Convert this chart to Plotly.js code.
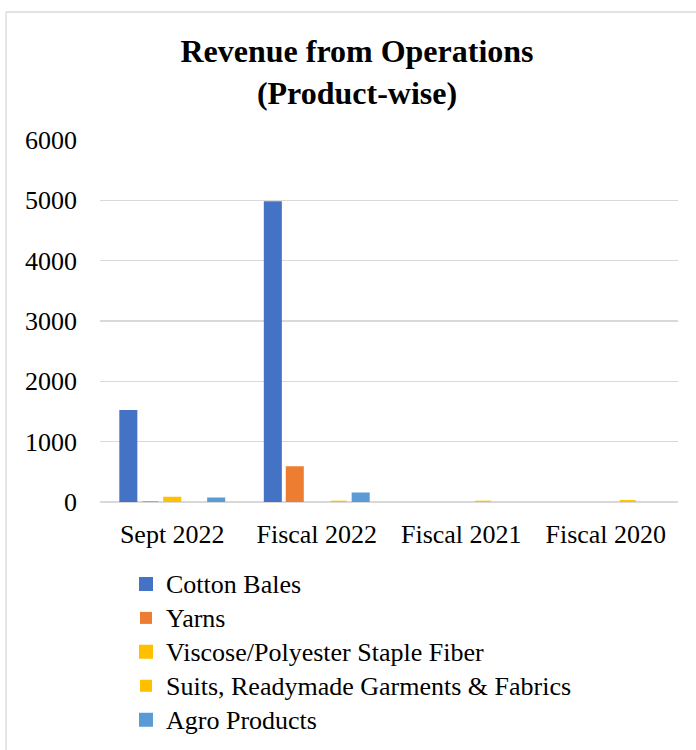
<!DOCTYPE html>
<html>
<head>
<meta charset="utf-8">
<script src="https://cdn.plot.ly/plotly-3.0.1.min.js"></script>
<style>html,body{margin:0;padding:0;background:#fff;}#chart{width:696px;height:750px;}</style>
</head>
<body>
<div id="chart"></div>
<script>
const categories = ["Sept 2022", "Fiscal 2022", "Fiscal 2021", "Fiscal 2020"];
const seriesNames = ["Cotton Bales", "Yarns", "Viscose/Polyester Staple Fiber", "Suits, Readymade Garments & Fabrics", "Agro Products"];
const cottonBales = [1510, 4970, 0, 0];
const yarns = [12, 575, 0, 0];
const viscoseFiber = [72, 0, 0, 0];
const suitsGarments = [0, 22, 22, 32];
const agroProducts = [58, 140, 0, 0];
const seriesColors = ["#4472C4", "#ED7D31", "#FFC000", "#FFC000", "#5B9BD5"];
const yTicks = [0, 1000, 2000, 3000, 4000, 5000, 6000];

const seriesValues = [cottonBales, yarns, viscoseFiber, suitsGarments, agroProducts];
const FONT = "'Liberation Serif', 'Times New Roman', serif";

const traces = seriesValues.map((vals, i) => ({
  type: "bar",
  name: '<span style="font-size:26px">' + seriesNames[i] + '</span>',
  x: categories,
  y: vals,
  marker: {
    color: seriesColors[i],
    line: {color: seriesColors[i], width: vals.map(v => (v > 40 ? 2 : 0))}
  },
  hoverinfo: "x+y"
}));

const layout = {
  width: 696,
  height: 750,
  margin: {l: 100, r: 18, t: 140, b: 248, pad: 0, autoexpand: false},
  paper_bgcolor: "#ffffff",
  plot_bgcolor: "#ffffff",
  font: {family: FONT, size: 26, color: "#000000"},
  title: {
    text: "<b>Revenue from Operations<br>(Product-wise)</b>",
    font: {family: FONT, size: 32, color: "#000000"},
    x: 357 / 696,
    xref: "container",
    xanchor: "center",
    y: 1 - 62 / 750,
    yref: "container",
    yanchor: "top"
  },
  barmode: "group",
  bargap: 0.24,
  bargroupgap: 0.27,
  xaxis: {
    type: "category",
    showgrid: false,
    showline: false,
    zeroline: false,
    ticks: "",
    ticklabelstandoff: 14,
    tickfont: {family: FONT, size: 26, color: "#000000"}
  },
  yaxis: {
    range: [0, 6000],
    tickvals: yTicks,
    ticktext: yTicks.map(String),
    showgrid: true,
    gridcolor: "#d9d9d9",
    gridwidth: 1.3,
    zeroline: true,
    zerolinecolor: "#d9d9d9",
    zerolinewidth: 1.3,
    showline: false,
    ticks: "",
    ticklabelstandoff: 22,
    tickfont: {family: FONT, size: 26, color: "#000000"}
  },
  showlegend: true,
  legend: {
    orientation: "v",
    tracegroupgap: 0,
    x: (126 - 100) / 578,
    xanchor: "left",
    y: (502 - 562) / 362,
    yanchor: "top",
    bgcolor: "rgba(0,0,0,0)",
    font: {family: FONT, size: 23.8, color: "#000000"}
  },
  shapes: [
    {
      type: "line", xref: "paper", yref: "paper",
      x0: (6 - 100) / 578, x1: (6 - 100) / 578,
      y0: (502 - 760) / 362, y1: (502 - 12) / 362,
      line: {color: "#d9d9d9", width: 1.3}, layer: "below"
    },
    {
      type: "line", xref: "paper", yref: "paper",
      x0: (6 - 100) / 578, x1: (720 - 100) / 578,
      y0: (502 - 12) / 362, y1: (502 - 12) / 362,
      line: {color: "#d9d9d9", width: 1.3}, layer: "below"
    }
  ]
};

Plotly.newPlot("chart", traces, layout, {displayModeBar: false, staticPlot: true});
</script>
</body>
</html>
